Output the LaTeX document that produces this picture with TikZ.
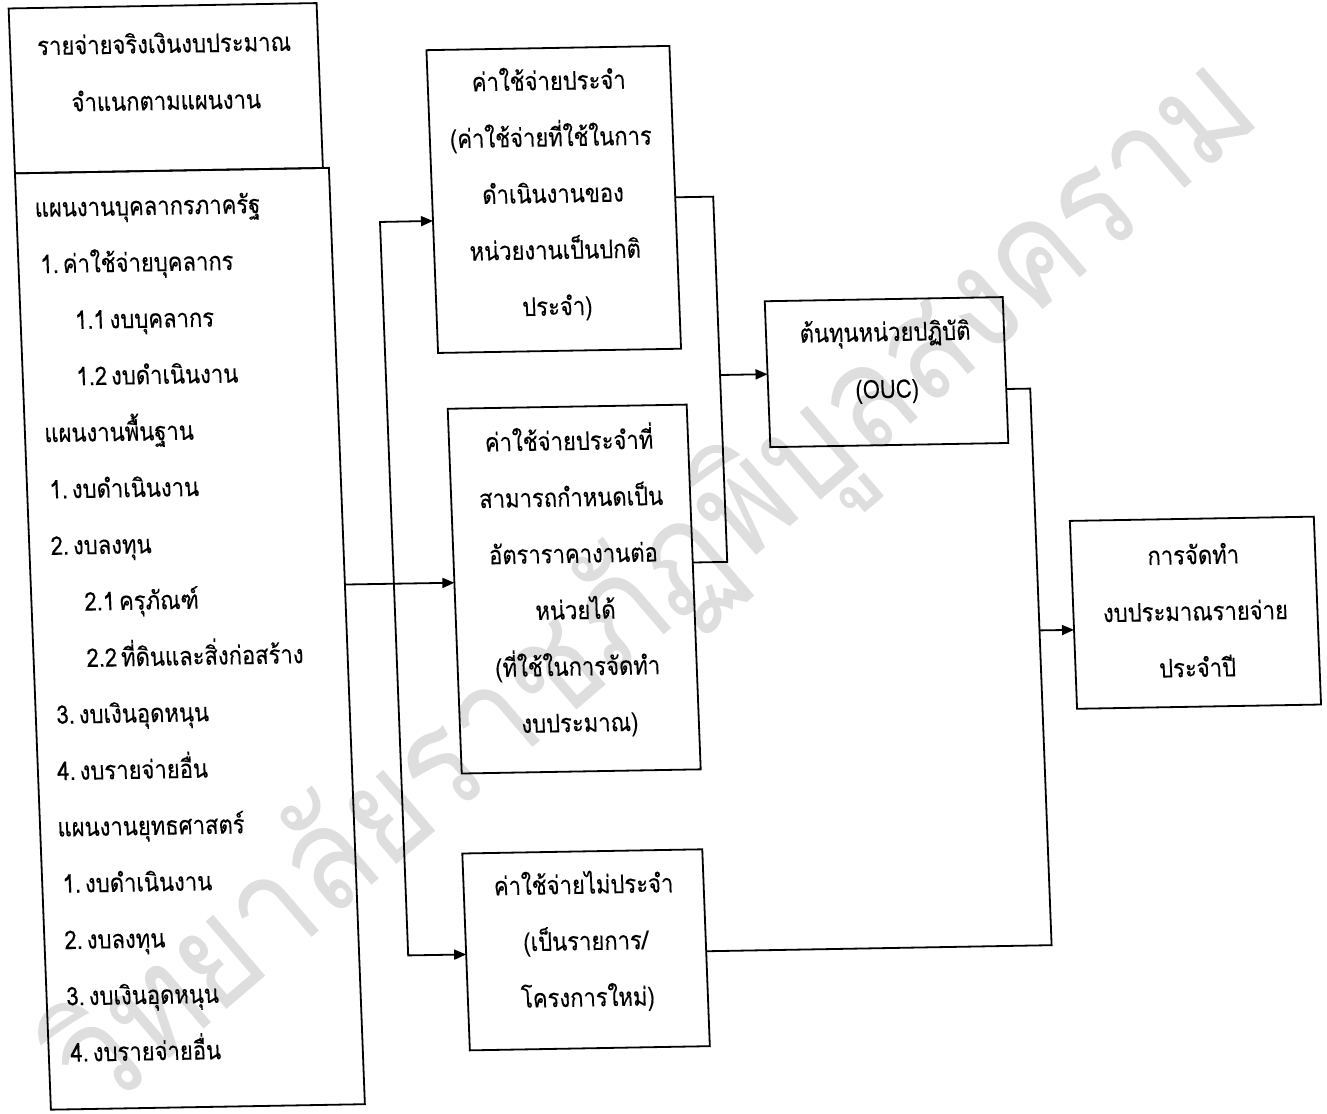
\documentclass[tikz,border=0pt]{standalone}
\usepackage{fontspec}
\setmainfont[Script=Thai, FakeStretch=0.86, FakeBold=0.2]{Loma}
\newfontfamily\wmfont[Script=Thai, FakeStretch=0.88]{Loma}
\usetikzlibrary{arrows.meta,calc}
\newcommand{\gp}{\hspace{2pt}}
\begin{document}
\begin{tikzpicture}[x=0.5pt,y=-0.5pt,
  box/.style={draw, line width=0.9pt, inner sep=0pt, outer sep=0pt},
  txt/.style={align=center, inner sep=0pt, font=\fontsize{12.8}{28.2}\selectfont},
  ltxt/.style={anchor=base west, inner sep=0pt, font=\fontsize{12.8}{28.2}\selectfont},
  conn/.style={line width=0.9pt},
  tip/.style={-{Triangle[length=6pt,width=5pt]}},
  tips/.style={{Triangle[length=6pt,width=5pt]}-{Triangle[length=6pt,width=5pt]}},
]
\useasboundingbox (0,0) rectangle (1327,1113);
\fill[white] (0,0) rectangle (1327,1113);
% watermark
\node[rotate=40.6, anchor=east, inner sep=0pt, text=black!13, font=\wmfont\fontsize{72}{72}\selectfont] (wm) at (1240,90) {วิทยาลัยราชภัฏพิบูลสงคราม};
% diagram (slightly skewed like the scan)
\begin{scope}[shift={(663.5,556.5)}, cm={0.99985,0.01745,-0.03839,0.99926,(0,0)}, shift={(-663.5,-556.5)}, transform shape]
\node[box, minimum width=154pt, minimum height=82.5pt] (H) at (184,79.5) {};
\node[box, minimum width=157pt, minimum height=468.5pt] (L) at (187,630.5) {};
\node[box, minimum width=121.5pt, minimum height=151.5pt] (B1) at (567.5,197.5) {};
\node[box, minimum width=119.5pt, minimum height=182.5pt] (B2) at (573,587.5) {};
\node[box, minimum width=120pt, minimum height=98.5pt] (B3) at (571,948.5) {};
\node[box, minimum width=119pt, minimum height=73pt] (OUC) at (893.5,376) {};
\node[box, minimum width=122pt, minimum height=94pt] (F) at (1193,622) {};

\node[txt, font=\fontsize{12.8}{28.5}\selectfont] (Ht) at (184,62.5) {รายจ่ายจริงเงินงบประมาณ\\จำแนกตามแผนงาน};
\node[txt] (B1t) at (567,192) {ค่าใช้จ่ายประจำ\\(ค่าใช้จ่ายที่ใช้ในการ\\ดำเนินงานของ\\หน่วยงานเป็นปกติ\\ประจำ)};
\node[txt] (B2t) at (573.5,579) {ค่าใช้จ่ายประจำที่\\สามารถกำหนดเป็น\\อัตราราคางานต่อ\\หน่วยได้\\(ที่ใช้ในการจัดทำ\\งบประมาณ)};
\node[txt] (B3t) at (571,940) {ค่าใช้จ่ายไม่ประจำ\\(เป็นรายการ/\\โครงการใหม่)};
\node[txt, font=\fontsize{12.8}{28.5}\selectfont] (Ot) at (893.5,365.5) {ต้นทุนหน่วยปฏิบัติ\\(OUC)};
\node[txt] (Ft) at (1193,619.5) {การจัดทำ\\งบประมาณรายจ่าย\\ประจำปี};

\foreach \xx/\tt [count=\i] in {48/แผนงานบุคลากรภาครัฐ, 51.6/1.\gp ค่าใช้จ่ายบุคลากร, 84/1.1\gp งบบุคลากร, 83.3/1.2\gp งบดำเนินงาน, 49/แผนงานพื้นฐาน, 52/1.\gp งบดำเนินงาน, 51/2.\gp งบลงทุน, 82.6/2.1\gp ครุภัณฑ์, 82.5/2.2\gp ที่ดินและสิ่งก่อสร้าง, 50.3/3.\gp งบเงินอุดหนุน, 49/4.\gp งบรายจ่ายอื่น, 47/แผนงานยุทธศาสตร์, 50/1.\gp งบดำเนินงาน, 49.6/2.\gp งบลงทุน, 49.4/3.\gp งบเงินอุดหนุน, 51.3/4.\gp งบรายจ่ายอื่น}
  \node[ltxt] (l\i) at (\xx,{206+56.36*(\i-1)}) {\tt};

\coordinate (s1) at (393,217);
\coordinate (s2) at (393,951);
\coordinate (m1) at (727,197.5);
\coordinate (m2) at (727,563);
\coordinate (m3) at (727,376);
\coordinate (r1) at (1036.5,395);
\coordinate (r2) at (1036.5,952);
\coordinate (r3) at (1036.5,637);

\draw[conn, tips] ($(B1.north west)!0.564!(B1.south west)$) -- (s1) -- (s2) -- ($(B3.north west)!0.513!(B3.south west)$);
\draw[conn, tip] ($(L.north east)!0.445!(L.south east)$) -- ($(B2.north west)!0.477!(B2.south west)$);
\draw[conn] (B1.east) -- (m1) -- (m2) -- ($(B2.north east)!0.433!(B2.south east)$);
\draw[conn, tip] (m3) -- (OUC.west);
\draw[conn] ($(OUC.north east)!0.63!(OUC.south east)$) -- (r1) -- (r2) -- ($(B3.north east)!0.518!(B3.south east)$);
\draw[conn, tip] (r3) -- ($(F.north west)!0.58!(F.south west)$);
\end{scope}
\end{tikzpicture}
\end{document}
